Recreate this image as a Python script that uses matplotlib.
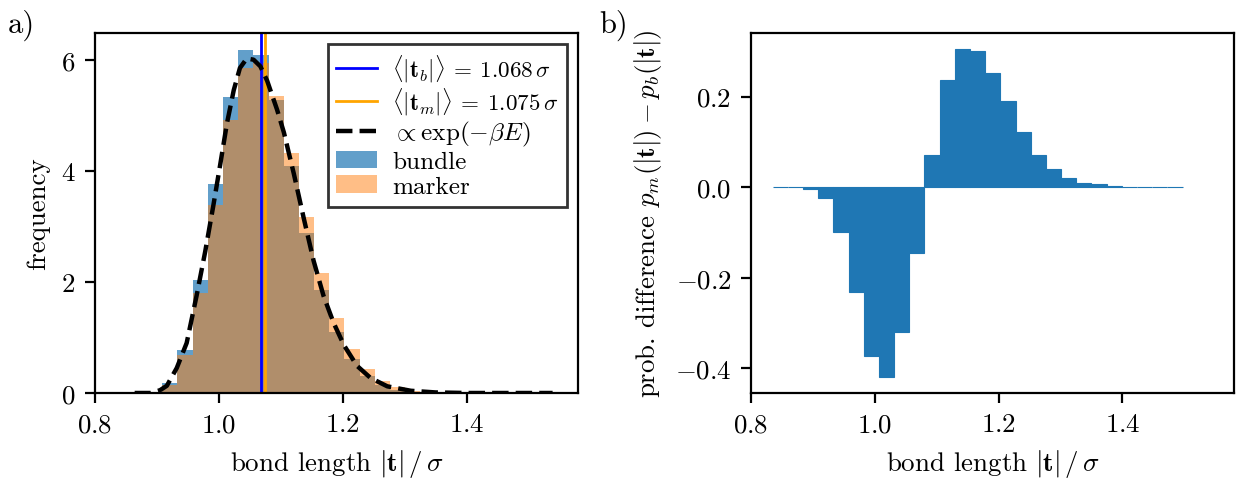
import numpy as np
import matplotlib
matplotlib.use('Agg')
import matplotlib.pyplot as plt

plt.rcParams['font.family'] = 'serif'
plt.rcParams['font.serif'] = ['cmr10']
plt.rcParams['mathtext.fontset'] = 'cm'
plt.rcParams['axes.formatter.use_mathtext'] = True
plt.rcParams['font.size'] = 9.7

# histogram bins (27 bins)
bin_edges = np.linspace(0.835, 1.497, 28)

# normalised frequencies read off panel a)
bundle = [0.0, 0.0, 0.004, 0.174, 0.78, 2.03, 3.76, 5.32, 6.17, 6.08, 5.27, 4.09, 2.88, 1.86,
          1.10, 0.61, 0.31, 0.15, 0.06, 0.02, 0.006, 0.002, 0.0005, 0.0, 0.0, 0.0, 0.0]
marker = [0.0, 0.0, 0.001, 0.149, 0.68, 1.80, 3.39, 4.92, 5.85, 5.94, 5.34, 4.32, 3.17, 2.16,
          1.35, 0.79, 0.43, 0.22, 0.10, 0.04, 0.016, 0.008, 0.002, 0.0005, 0.0, 0.0, 0.0]

# p_m - p_b read off panel b)
diff = [0.0, 0.0, -0.003, -0.025, -0.100, -0.232, -0.373, -0.418, -0.320, -0.146, 0.070, 0.237,
        0.304, 0.301, 0.251, 0.189, 0.121, 0.072, 0.041, 0.021, 0.010, 0.006, 0.0015, 0.0005,
        0.0, 0.0, 0.0]

# mean bond lengths
mean_b = 1.068
mean_m = 1.075

# Boltzmann curve, points
curve_x = [0.864, 0.890, 0.905, 0.916, 0.932, 0.948, 0.964, 0.978, 0.991, 1.002, 1.013, 1.024,
           1.034, 1.045, 1.056, 1.067, 1.078, 1.094, 1.105, 1.121, 1.137, 1.153, 1.169, 1.185,
           1.202, 1.223, 1.245, 1.272, 1.310, 1.350, 1.400, 1.539]
curve_y = [0.0, 0.0, 0.05, 0.13, 0.45, 0.90, 1.75, 2.55, 3.37, 4.10, 4.85, 5.45,
           5.85, 6.02, 6.00, 5.88, 5.62, 5.10, 4.69, 3.95, 3.15, 2.38, 1.75, 1.27,
           0.86, 0.49, 0.27, 0.12, 0.04, 0.01, 0.0, 0.0]

left_edges = bin_edges[:-1]
width = bin_edges[1] - bin_edges[0]

fig = plt.figure(figsize=(6.195, 2.405), dpi=200)
ax1 = fig.add_axes([0.0767, 0.1809, 0.3898, 0.7484])
ax2 = fig.add_axes([0.6061, 0.1809, 0.3898, 0.7484])

# panel a
hb = ax1.bar(left_edges, bundle, width=width, align='edge', color='C0', alpha=0.7, label='bundle')
hm = ax1.bar(left_edges, marker, width=width, align='edge', color='C1', alpha=0.5, label='marker')
lb = ax1.axvline(mean_b, color='blue', lw=1,
                 label=r'$\langle|\mathbf{t}_b|\rangle\:{=}\:%.3f\,\sigma$' % mean_b)
lm = ax1.axvline(mean_m, color='orange', lw=1,
                 label=r'$\langle|\mathbf{t}_m|\rangle\:{=}\:%.3f\,\sigma$' % mean_m)
lc, = ax1.plot(curve_x, curve_y, 'k--', lw=1.6, label=r'$\propto \exp(-\beta E)$')
leg = ax1.legend(handles=[lb, lm, lc, hb, hm], loc='upper right', fontsize=9.1,
                 fancybox=False, edgecolor='k', labelspacing=0.08, handlelength=1.6,
                 handletextpad=0.6, borderaxespad=0.45, borderpad=0.34)
for t in leg.get_texts()[:2]:
    t.set_fontsize(8.3)
ax1.set_xlim(0.8, 1.58)
ax1.set_ylim(0, 6.48)
ax1.set_xticks([0.8, 1.0, 1.2, 1.4])
ax1.set_yticks([0, 2, 4, 6])
ax1.set_xlabel(r'bond length $|\mathbf{t}|\,/\,\sigma$')
ax1.set_ylabel('frequency')

# panel b
ax2.bar(left_edges, diff, width=width, align='edge', color='C0', edgecolor='C0', linewidth=0.4)
ax2.set_xlim(0.8, 1.58)
ax2.set_xticks([0.8, 1.0, 1.2, 1.4])
ax2.set_yticks([-0.4, -0.2, 0.0, 0.2])
ax2.set_xlabel(r'bond length $|\mathbf{t}|\,/\,\sigma$')
ax2.set_ylabel(r'prob. difference $p_m(|\mathbf{t}|) - p_b(|\mathbf{t}|)$')

fig.text(0.006, 0.98, 'a)', fontsize=11, va='top', ha='left')
fig.text(0.484, 0.98, 'b)', fontsize=11, va='top', ha='left')

fig.savefig('out.png', dpi=200)
